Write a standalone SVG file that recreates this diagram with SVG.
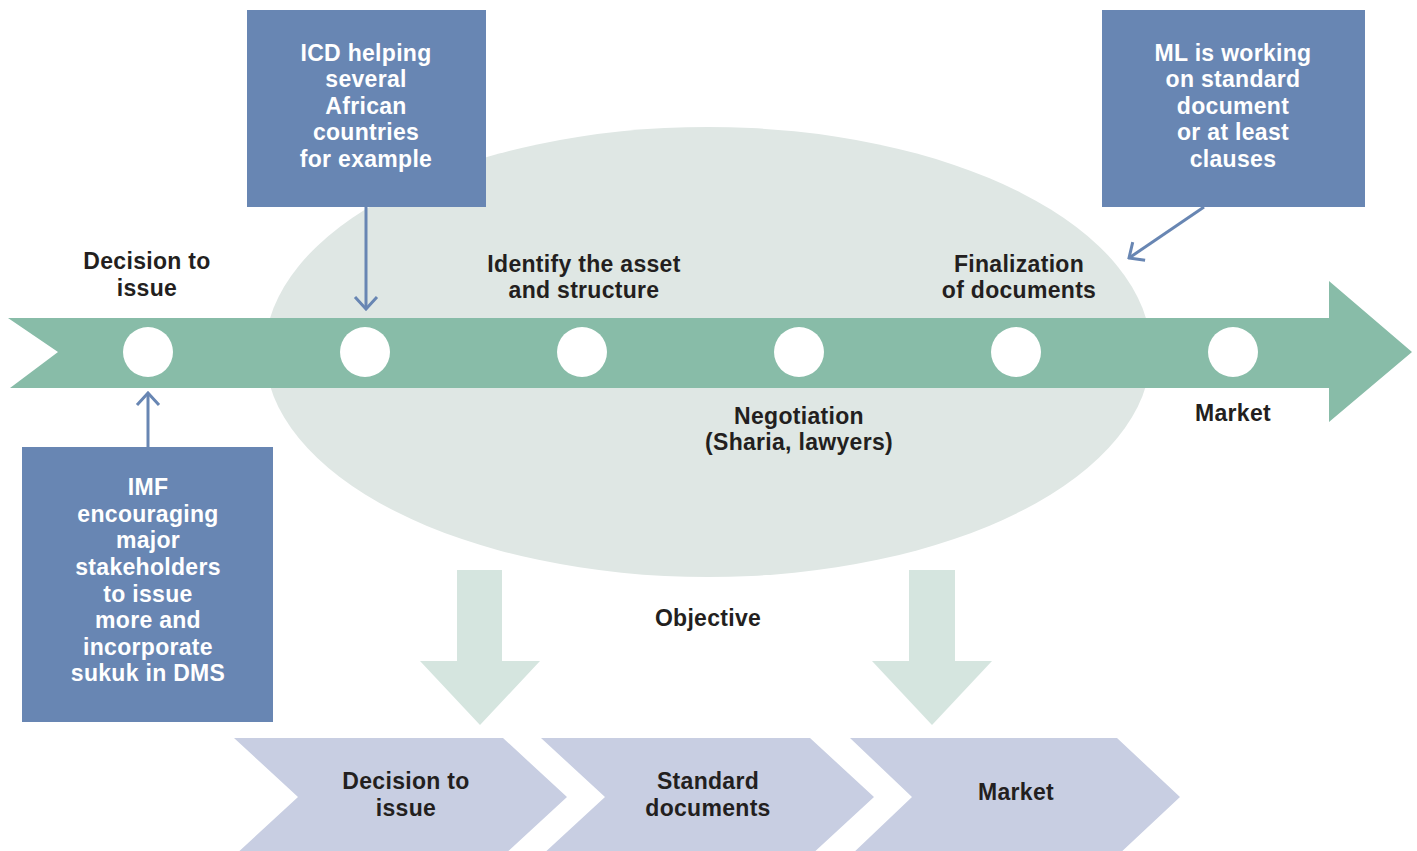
<svg xmlns="http://www.w3.org/2000/svg" width="1417" height="851" viewBox="0 0 1417 851">
<defs>
<style>
.lbl{font-family:"Liberation Sans",Arial,sans-serif;font-weight:bold;font-size:23px;letter-spacing:0.3px;fill:#231f20;text-anchor:middle}
.wt{font-family:"Liberation Sans",Arial,sans-serif;font-weight:bold;font-size:23px;letter-spacing:0.3px;fill:#ffffff;text-anchor:middle}
.box{fill:#6886b3}
.chev{fill:#c8cee2}
.down{fill:#d5e5df}
.dot{fill:#ffffff}
.conn{stroke:#6886b3;stroke-width:3;fill:none}
</style>
<marker id="open" viewBox="0 0 16 26" refX="14" refY="13" markerWidth="16" markerHeight="26" orient="auto" markerUnits="userSpaceOnUse">
<path d="M2 2 L14 13 L2 24" fill="none" stroke="#6886b3" stroke-width="3"/>
</marker>
</defs>
<rect width="1417" height="851" fill="#ffffff"/>
<g id="background">
<ellipse cx="708" cy="352" rx="443" ry="225" fill="#dfe7e4"/>
</g>
<g id="timeline">
<path d="M8 318 L1329 318 L1329 281 L1412 352 L1329 422 L1329 388 L10 388 L58 352 Z" fill="#88bca8"/>
<circle class="dot" cx="148" cy="352" r="25"/>
<circle class="dot" cx="365" cy="352" r="25"/>
<circle class="dot" cx="582" cy="352" r="25"/>
<circle class="dot" cx="799" cy="352" r="25"/>
<circle class="dot" cx="1016" cy="352" r="25"/>
<circle class="dot" cx="1233" cy="352" r="25"/>
</g>
<g id="step-labels">
<text class="lbl" x="147" y="269">Decision to</text>
<text class="lbl" x="147" y="296">issue</text>
<text class="lbl" x="584" y="272">Identify the asset</text>
<text class="lbl" x="584" y="298">and structure</text>
<text class="lbl" x="1019" y="272">Finalization</text>
<text class="lbl" x="1019" y="298">of documents</text>
<text class="lbl" x="799" y="424">Negotiation</text>
<text class="lbl" x="799" y="450">(Sharia, lawyers)</text>
<text class="lbl" x="1233" y="421">Market</text>
<text class="lbl" x="708" y="626">Objective</text>
</g>
<g id="icd-box">
<rect class="box" x="247" y="10" width="239" height="197"/>
<text class="wt" x="366" y="61">ICD helping</text>
<text class="wt" x="366" y="87">several</text>
<text class="wt" x="366" y="114">African</text>
<text class="wt" x="366" y="140">countries</text>
<text class="wt" x="366" y="167">for example</text>
</g>
<g id="ml-box">
<rect class="box" x="1102" y="10" width="263" height="197"/>
<text class="wt" x="1233" y="61">ML is working</text>
<text class="wt" x="1233" y="87">on standard</text>
<text class="wt" x="1233" y="114">document</text>
<text class="wt" x="1233" y="140">or at least</text>
<text class="wt" x="1233" y="167">clauses</text>
</g>
<g id="imf-box">
<rect class="box" x="22" y="447" width="251" height="275"/>
<text class="wt" x="148" y="495">IMF</text>
<text class="wt" x="148" y="522">encouraging</text>
<text class="wt" x="148" y="548">major</text>
<text class="wt" x="148" y="575">stakeholders</text>
<text class="wt" x="148" y="602">to issue</text>
<text class="wt" x="148" y="628">more and</text>
<text class="wt" x="148" y="655">incorporate</text>
<text class="wt" x="148" y="681">sukuk in DMS</text>
</g>
<g id="connectors">
<line class="conn" x1="366" y1="207" x2="366" y2="309" marker-end="url(#open)"/>
<line class="conn" x1="148" y1="447" x2="148" y2="393" marker-end="url(#open)"/>
<line class="conn" x1="1204" y1="207" x2="1129" y2="258" marker-end="url(#open)"/>
</g>
<g id="objective-arrows">
<path class="down" d="M457 570 L502 570 L502 661 L540 661 L480 725 L420 661 L457 661 Z"/>
<path class="down" d="M909 570 L955 570 L955 661 L992 661 L932 725 L872 661 L909 661 Z"/>
</g>
<g id="chevron-decision">
<path class="chev" d="M234 738 L503 738 L567 797 L503 856 L234 856 L298 797 Z"/>
<text class="lbl" x="406" y="789">Decision to</text>
<text class="lbl" x="406" y="816">issue</text>
</g>
<g id="chevron-standard">
<path class="chev" d="M541 738 L810 738 L874 797 L810 856 L541 856 L605 797 Z"/>
<text class="lbl" x="708" y="789">Standard</text>
<text class="lbl" x="708" y="816">documents</text>
</g>
<g id="chevron-market">
<path class="chev" d="M850 738 L1117 738 L1180 797 L1117 856 L850 856 L912 797 Z"/>
<text class="lbl" x="1016" y="800">Market</text>
</g>
</svg>
